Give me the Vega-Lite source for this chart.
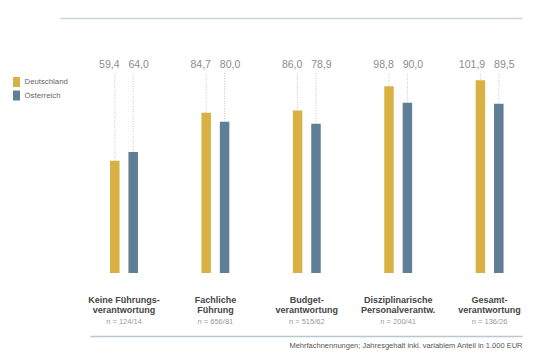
{
  "$schema": "https://vega.github.io/schema/vega-lite/v6.json",
  "width": 462,
  "height": 208,
  "autosize": "none",
  "padding": {"left": 60, "top": 65, "right": 16, "bottom": 88},
  "background": "white",
  "config": {
    "font": "Liberation Sans",
    "view": {"stroke": null},
    "locale": {"number": {"decimal": ",", "thousands": ".", "grouping": [3], "currency": ["", " €"]}}
  },
  "data": {
    "values": [
      {"category": "Keine Führungsverantwortung", "label": "Keine Führungs-\nverantwortung", "n": "n = 124/14", "country": "Deutschland", "value": 59.4},
      {"category": "Keine Führungsverantwortung", "label": "Keine Führungs-\nverantwortung", "n": "n = 124/14", "country": "Österreich", "value": 64.0},
      {"category": "Fachliche Führung", "label": "Fachliche\nFührung", "n": "n = 656/81", "country": "Deutschland", "value": 84.7},
      {"category": "Fachliche Führung", "label": "Fachliche\nFührung", "n": "n = 656/81", "country": "Österreich", "value": 80.0},
      {"category": "Budgetverantwortung", "label": "Budget-\nverantwortung", "n": "n = 515/62", "country": "Deutschland", "value": 86.0},
      {"category": "Budgetverantwortung", "label": "Budget-\nverantwortung", "n": "n = 515/62", "country": "Österreich", "value": 78.9},
      {"category": "Disziplinarische Personalverantw.", "label": "Disziplinarische\nPersonalverantw.", "n": "n = 200/41", "country": "Deutschland", "value": 98.8},
      {"category": "Disziplinarische Personalverantw.", "label": "Disziplinarische\nPersonalverantw.", "n": "n = 200/41", "country": "Österreich", "value": 90.0},
      {"category": "Gesamtverantwortung", "label": "Gesamt-\nverantwortung", "n": "n = 136/26", "country": "Deutschland", "value": 101.9},
      {"category": "Gesamtverantwortung", "label": "Gesamt-\nverantwortung", "n": "n = 136/26", "country": "Österreich", "value": 89.5}
    ]
  },
  "layer": [
    {
      "mark": {"type": "bar"},
      "encoding": {
        "x": {
          "field": "category", "type": "nominal", "sort": null,
          "scale": {"paddingInner": 0.4, "paddingOuter": 0.2273, "align": 0.88, "round": false},
          "axis": {
            "orient": "bottom", "offset": 63, "labels": false, "ticks": false,
            "title": "Mehrfachnennungen; Jahresgehalt inkl. variablem Anteil in 1.000 EUR",
            "titleAnchor": "end", "titleFontSize": 7.5, "titleFontWeight": "normal",
            "titleColor": "#555555", "titlePadding": 5,
            "domainColor": "#b9c7d0", "domainWidth": 1.5, "domainDash": [0, 30, 432, 0]
          }
        },
        "xOffset": {
          "field": "country", "type": "nominal", "sort": null,
          "scale": {"paddingInner": 0.4837, "paddingOuter": 0.732, "round": false}
        },
        "y": {
          "field": "value", "type": "quantitative",
          "scale": {"domain": [0, 110], "nice": false, "zero": true},
          "axis": null
        },
        "color": {
          "field": "country", "type": "nominal", "sort": null,
          "scale": {"domain": ["Deutschland", "Österreich"], "range": ["#d9b142", "#5f7f96"]},
          "legend": {
            "orient": "none", "legendX": -48.5, "legendY": 12, "title": null,
            "symbolType": "M-0.7,-1H0.7V1H-0.7Z", "symbolSize": 100, "symbolStrokeWidth": 0,
            "symbolOpacity": 1,
            "labelFontSize": 7.8, "labelColor": "#666666", "labelOffset": 3,
            "rowPadding": 3.5, "padding": 0
          }
        }
      }
    },
    {
      "mark": {"type": "rule", "color": "#c4c4c4", "strokeWidth": 1, "strokeDash": [1, 1.5]},
      "encoding": {
        "x": {
          "field": "category", "type": "nominal", "sort": null,
          "axis": {
            "orient": "top", "offset": 47, "labels": false, "ticks": false, "title": null,
            "domainColor": "#c9d3da", "domainWidth": 1.5
          }
        },
        "xOffset": {"field": "country", "type": "nominal", "sort": null},
        "y": {"field": "value", "type": "quantitative"},
        "y2": {"datum": 105.8}
      }
    },
    {
      "transform": [{"filter": "datum.country === 'Deutschland'"}],
      "mark": {"type": "text", "align": "right", "baseline": "middle", "dx": 4.75, "fontSize": 10.5, "color": "#8c8c8c"},
      "encoding": {
        "x": {"field": "category", "type": "nominal", "sort": null, "axis": null},
        "xOffset": {"field": "country", "type": "nominal", "sort": null},
        "y": {"datum": 110, "type": "quantitative"},
        "text": {"field": "value", "type": "quantitative", "format": ".1f"}
      }
    },
    {
      "transform": [{"filter": "datum.country === 'Österreich'"}],
      "mark": {"type": "text", "align": "left", "baseline": "middle", "dx": -4.75, "fontSize": 10.5, "color": "#8c8c8c"},
      "encoding": {
        "x": {"field": "category", "type": "nominal", "sort": null, "axis": null},
        "xOffset": {"field": "country", "type": "nominal", "sort": null},
        "y": {"datum": 110, "type": "quantitative"},
        "text": {"field": "value", "type": "quantitative", "format": ".1f"}
      }
    },
    {
      "transform": [{"filter": "datum.country === 'Deutschland'"}],
      "mark": {"type": "text", "align": "center", "baseline": "alphabetic", "dy": 30, "lineBreak": "\n", "lineHeight": 9.7, "fontSize": 9, "fontWeight": "bold", "color": "#454545"},
      "encoding": {
        "x": {"field": "category", "type": "nominal", "sort": null, "axis": null},
        "y": {"datum": 0, "type": "quantitative"},
        "text": {"field": "label", "type": "nominal"}
      }
    },
    {
      "transform": [{"filter": "datum.country === 'Deutschland'"}],
      "mark": {"type": "text", "align": "center", "baseline": "alphabetic", "dy": 50.7, "fontSize": 7.5, "color": "#9a9a9a"},
      "encoding": {
        "x": {"field": "category", "type": "nominal", "sort": null, "axis": null},
        "y": {"datum": 0, "type": "quantitative"},
        "text": {"field": "n", "type": "nominal"}
      }
    }
  ],
  "resolve": {"axis": {"x": "independent"}}
}
